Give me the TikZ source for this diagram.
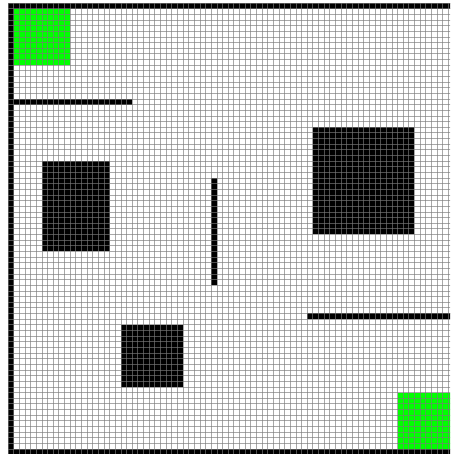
\documentclass[tikz,border=0pt]{standalone}
\begin{document}
\begin{tikzpicture}[x=1pt,y=1pt,
  wall/.style={fill=black},
  goal/.style={fill=green},
  gridline/.style={draw=black!52, draw opacity=0.65, line width=0.7pt}]
\useasboundingbox (0,0) rectangle (450,-454);
\fill[white] (0,0) rectangle (450,-454);
\clip (0,0) rectangle (450,-454);
\begin{scope}[shift={(8pt,-3pt)}, x=5.645pt, y=-5.645pt]
% outer walls
\fill[wall] (0,0) rectangle (80,1);
\fill[wall] (0,79) rectangle (80,80);
\fill[wall] (0,0) rectangle (1,80);
\fill[wall] (79,0) rectangle (80,80);
% green zones
\fill[goal] (1,1) rectangle (11,11);
\fill[goal] (69,69) rectangle (79,79);
% obstacles
\fill[wall] (1,17) rectangle (22,18);
\fill[wall] (6,28) rectangle (18,44);
\fill[wall] (54,22) rectangle (72,41);
\fill[wall] (36,31) rectangle (37,50);
\fill[wall] (53,55) rectangle (79,56);
\fill[wall] (20,57) rectangle (31,68);
% grid
\foreach \i in {0,...,80} {
  \draw[gridline] (\i,0) -- (\i,80);
  \draw[gridline] (0,\i) -- (80,\i);
}
\end{scope}
\end{tikzpicture}
\end{document}
